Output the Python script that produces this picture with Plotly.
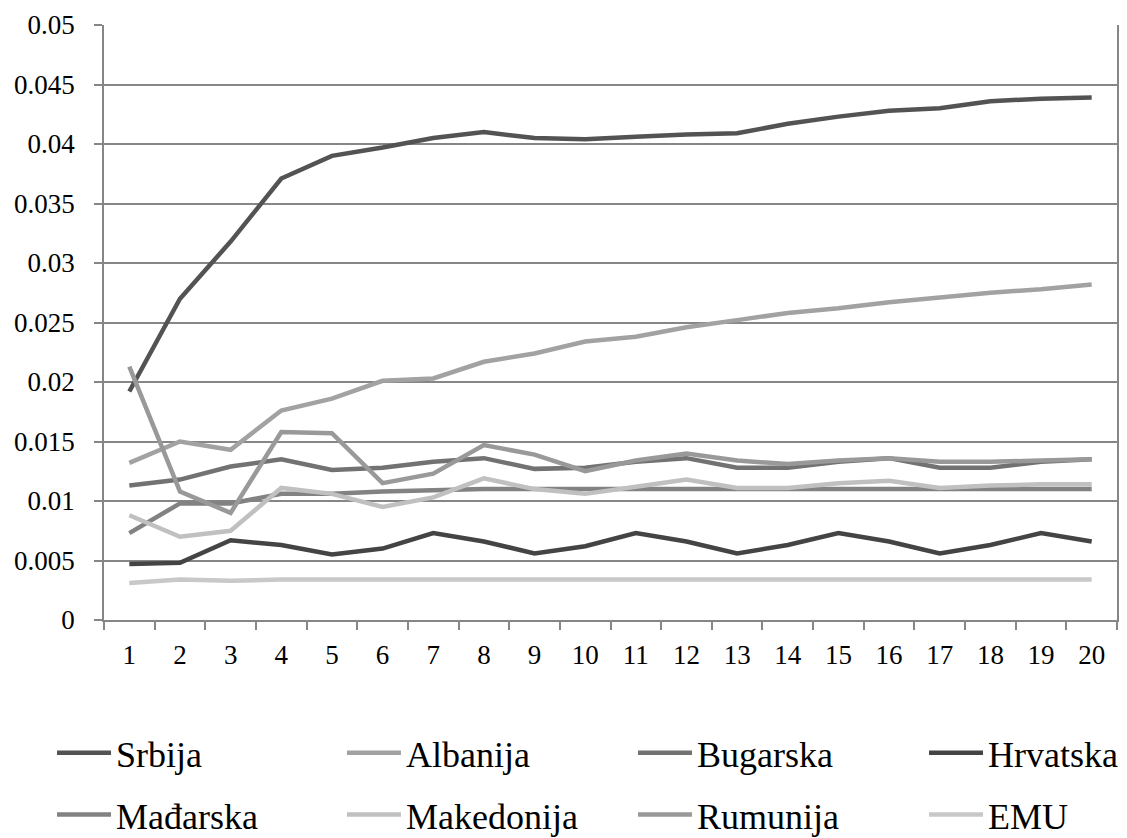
import plotly.graph_objects as go

# Horizon 1..20
periods = [str(i) for i in range(1, 21)]

srbija = [0.0192, 0.0270, 0.0318, 0.0371, 0.0390, 0.0397, 0.0405, 0.0410, 0.0405, 0.0404,
          0.0406, 0.0408, 0.0409, 0.0417, 0.0423, 0.0428, 0.0430, 0.0436, 0.0438, 0.0439]
albanija = [0.0132, 0.0150, 0.0143, 0.0176, 0.0186, 0.0201, 0.0203, 0.0217, 0.0224, 0.0234,
            0.0238, 0.0246, 0.0252, 0.0258, 0.0262, 0.0267, 0.0271, 0.0275, 0.0278, 0.0282]
bugarska = [0.0113, 0.0118, 0.0129, 0.0135, 0.0126, 0.0128, 0.0133, 0.0136, 0.0127, 0.0128,
            0.0133, 0.0136, 0.0128, 0.0128, 0.0133, 0.0136, 0.0128, 0.0128, 0.0133, 0.0135]
hrvatska = [0.0047, 0.0048, 0.0067, 0.0063, 0.0055, 0.0060, 0.0073, 0.0066, 0.0056, 0.0062,
            0.0073, 0.0066, 0.0056, 0.0063, 0.0073, 0.0066, 0.0056, 0.0063, 0.0073, 0.0066]
madjarska = [0.0073, 0.0098, 0.0098, 0.0106, 0.0106, 0.0108, 0.0109, 0.0110, 0.0110, 0.0110,
             0.0110, 0.0110, 0.0110, 0.0110, 0.0110, 0.0110, 0.0110, 0.0110, 0.0110, 0.0110]
makedonija = [0.0088, 0.0070, 0.0075, 0.0111, 0.0106, 0.0095, 0.0103, 0.0119, 0.0110, 0.0106,
              0.0112, 0.0118, 0.0111, 0.0111, 0.0115, 0.0117, 0.0111, 0.0113, 0.0114, 0.0114]
rumunija = [0.0213, 0.0108, 0.0090, 0.0158, 0.0157, 0.0115, 0.0123, 0.0147, 0.0139, 0.0125,
            0.0134, 0.0140, 0.0134, 0.0131, 0.0134, 0.0136, 0.0133, 0.0133, 0.0134, 0.0135]
emu = [0.0031, 0.0034, 0.0033, 0.0034, 0.0034, 0.0034, 0.0034, 0.0034, 0.0034, 0.0034,
       0.0034, 0.0034, 0.0034, 0.0034, 0.0034, 0.0034, 0.0034, 0.0034, 0.0034, 0.0034]

y_ticks = [0, 0.005, 0.01, 0.015, 0.02, 0.025, 0.03, 0.035, 0.04, 0.045, 0.05]
y_tick_text = ["0", "0.005", "0.01", "0.015", "0.02", "0.025", "0.03", "0.035", "0.04", "0.045", "0.05"]

# (name, values, colour, legend column)
series = [
    ("Srbija", srbija, "#535353", "legend"),
    ("Albanija", albanija, "#a2a2a2", "legend2"),
    ("Bugarska", bugarska, "#727272", "legend3"),
    ("Hrvatska", hrvatska, "#444444", "legend4"),
    ("Mađarska", madjarska, "#828282", "legend"),
    ("Makedonija", makedonija, "#c0c0c0", "legend2"),
    ("Rumunija", rumunija, "#999999", "legend3"),
    ("EMU", emu, "#c8c8c8", "legend4"),
]

FONT = "Liberation Serif, Times New Roman, serif"
GRID = "#868686"

fig = go.Figure()
for name, vals, color, leg in series:
    fig.add_trace(go.Scatter(
        x=periods, y=vals, name=name, mode="lines",
        line=dict(color=color, width=4.5),
        legend=leg, legendgroup=name,
    ))

# Four two-row legend columns laid out under the plot
column_x = [-0.0513, 0.2349, 0.5222, 0.8095]


def legend_column(x):
    return dict(
        orientation="v",
        xanchor="left",
        yanchor="middle",
        x=x,
        y=-0.2755,
        tracegroupgap=12,
        itemwidth=54,
        font=dict(family=FONT, size=36, color="black"),
        bgcolor="rgba(0,0,0,0)",
    )


fig.update_layout(
    width=1127,
    height=838,
    margin=dict(l=104, r=10, t=25, b=218, autoexpand=False),
    paper_bgcolor="white",
    plot_bgcolor="white",
    font=dict(family=FONT, size=27, color="black"),
    showlegend=True,
    legend=legend_column(column_x[0]),
    legend2=legend_column(column_x[1]),
    legend3=legend_column(column_x[2]),
    legend4=legend_column(column_x[3]),
    xaxis=dict(
        type="category",
        range=[-0.5, len(periods) - 0.5],
        tickson="boundaries",
        ticks="outside",
        ticklen=8,
        tickcolor=GRID,
        tickwidth=1.5,
        showgrid=False,
        showline=True,
        linecolor=GRID,
        linewidth=1.5,
        tickfont=dict(family=FONT, size=27, color="black"),
        ticklabelstandoff=10,
    ),
    yaxis=dict(
        range=[0, 0.05],
        tickvals=y_ticks,
        ticktext=y_tick_text,
        ticks="outside",
        ticklen=8,
        tickcolor=GRID,
        tickwidth=1.5,
        showgrid=True,
        gridcolor=GRID,
        gridwidth=1.5,
        showline=True,
        linecolor=GRID,
        linewidth=1.5,
        mirror=True,
        zeroline=False,
        tickfont=dict(family=FONT, size=27, color="black"),
        ticklabelstandoff=14,
    ),
)

fig.write_html("out.html")
